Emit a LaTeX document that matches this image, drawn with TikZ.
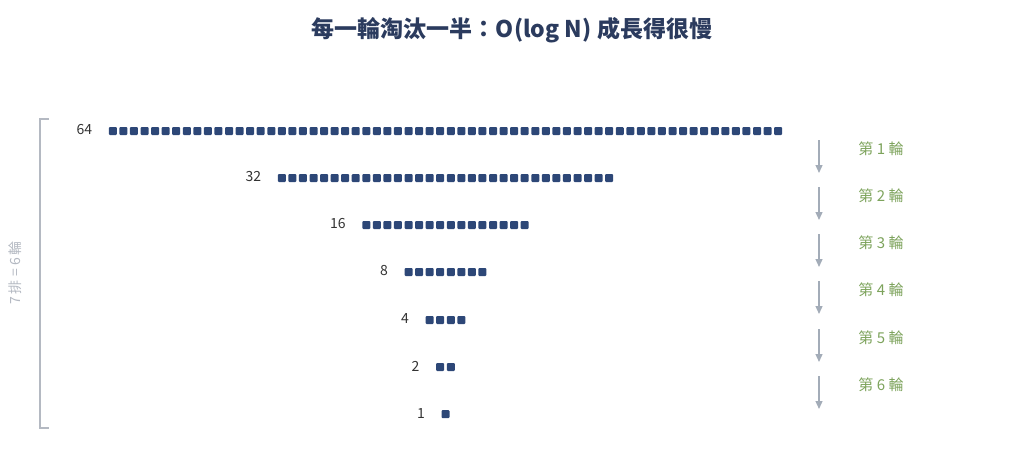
\documentclass[tikz,border=0pt]{standalone}
\usepackage{fontspec}
\setmainfont{Noto Sans CJK TC}
\usetikzlibrary{arrows.meta,positioning}

\definecolor{titleblue}{HTML}{2B3B5E}
\definecolor{cellblue}{HTML}{2D4777}
\definecolor{roundgreen}{HTML}{7DA35C}
\definecolor{stepgray}{HTML}{A3ACB8}
\definecolor{bracegray}{HTML}{B4B9C2}

\tikzset{
  cell/.style={rectangle, fill=cellblue, inner sep=0pt, minimum size=8pt, rounded corners=1pt},
  count/.style={font=\fontsize{14}{14}\selectfont, text=black!80},
  roundlabel/.style={font=\fontsize{15}{15}\selectfont, text=roundgreen},
  halving/.style={draw=stepgray, line width=1.3pt, -{Triangle[length=8pt,width=7pt]}}
}

\begin{document}
\begin{tikzpicture}[x=1pt,y=-1pt]
  \useasboundingbox (0,0) rectangle (1024,469);

  \node [font=\bfseries\fontsize{23}{23}\selectfont, text=titleblue] (title) at (512,30) {每一輪淘汰一半：O(log N) 成長得很慢};

  % rows of cells, halved each time
  \foreach \n/\y [count=\r] in {64/131,32/178,16/225,8/272,4/320,2/367,1/414}{
    \foreach \i in {1,...,\n}{
      \pgfmathsetmacro{\xx}{445.5+(\i-(\n+1)/2)*10.56}
      \node [cell] (sq-\r-\i) at (\xx,\y) {};
    }
    \node [count, left=13pt of sq-\r-1, yshift=1pt] (cnt\r) {\n};
  }

  % arrows between rows
  \foreach \y [count=\r] in {131,178,225,272,320,367}{
    \coordinate (top\r) at (819,\y+9);
    \coordinate (bot\r) at (819,\y+42);
    \draw [halving] (top\r) -- (bot\r);
    \node [roundlabel] (rnd\r) at (881,\y+18) {第 \r{} 輪};
  }

  % bracket
  \coordinate (brA) at (49,119);
  \coordinate (brB) at (40,119);
  \coordinate (brC) at (40,428);
  \coordinate (brD) at (49,428);
  \draw [bracegray, line width=1.5pt] (brA) -- (brB) -- (brC) -- (brD);
  \node [rotate=90, text=bracegray, font=\fontsize{14}{14}\selectfont] (total) at (15,273) {7 排 = 6 輪};
\end{tikzpicture}
\end{document}
